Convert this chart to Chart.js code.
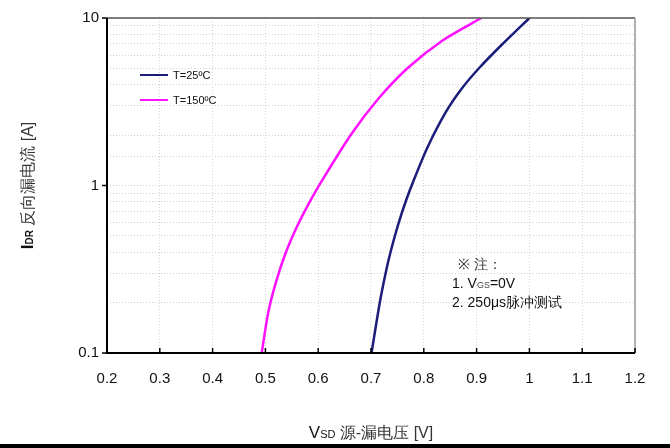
<!DOCTYPE html>
<html>
<head>
<meta charset="utf-8">
<script src="https://cdn.jsdelivr.net/npm/chart.js@4"></script>
<style>
  body { margin: 0; background: #fff; }
  #wrap { width: 670px; height: 448px; position: relative; }
  #bar { position: absolute; left: 0; top: 444px; width: 670px; height: 4px; background: #000; }
</style>
</head>
<body>
<div id="wrap">
  <canvas id="ivChart" width="670" height="448"></canvas>
  <div id="bar"></div>
</div>
<script>
// values
const vsd25 = [0.701, 0.7165, 0.729, 0.738, 0.7523, 0.7667, 0.7811, 0.8064, 0.8419, 0.8727, 0.9049, 0.9472, 1.000];
const idr25 = [0.1, 0.199, 0.313, 0.412, 0.597, 0.819, 1.078, 1.675, 2.75, 3.82, 5.03, 6.90, 10];
const vsd150 = [0.493, 0.5051, 0.5193, 0.5381, 0.5597, 0.5824, 0.604, 0.6616, 0.7119, 0.769, 0.8369, 0.9089];
const idr150 = [0.1, 0.1726, 0.2606, 0.3937, 0.5675, 0.7828, 1.031, 2.002, 3.239, 5.009, 7.39, 10];

const seriesNames = ["T=25ºC", "T=150ºC"];
const xTicks = [0.2, 0.3, 0.4, 0.5, 0.6, 0.7, 0.8, 0.9, 1, 1.1, 1.2];
const yTicks = [0.1, 1, 10];
const noteLines = ["※ 注：", "1. V|GS|=0V", "2. 250μs脉冲测试"];

const FONT = "'Liberation Sans', Arial, sans-serif";
const NAVY = "#1c1c7a";
const PINK = "#ff10ff";

function toPoints(xs, ys) {
  return xs.map((x, i) => ({ x: x, y: ys[i] }));
}

// draw text pieces, "small" pieces get a smaller font
function drawPieces(ctx, pieces, x, y, align) {
  let total = 0;
  pieces.forEach(p => {
    ctx.font = p.font;
    total += ctx.measureText(p.text).width;
  });
  let cx = align === "center" ? x - total / 2 : x;
  pieces.forEach(p => {
    ctx.font = p.font;
    ctx.fillStyle = p.color || "#111";
    ctx.fillText(p.text, cx, y + (p.dy || 0));
    cx += ctx.measureText(p.text).width;
  });
}

const decorPlugin = {
  id: "decor",
  afterDraw(chart) {
    const ctx = chart.ctx;
    const a = chart.chartArea;
    const xs = chart.scales.x, ys = chart.scales.y;
    ctx.save();
    ctx.textBaseline = "alphabetic";
    ctx.textAlign = "left";

    // frame
    ctx.strokeStyle = "#555";
    ctx.lineWidth = 1.5;
    ctx.beginPath();
    ctx.moveTo(a.left, a.top); ctx.lineTo(a.right, a.top);
    ctx.stroke();
    ctx.strokeStyle = "#999";
    ctx.beginPath();
    ctx.moveTo(a.right, a.top); ctx.lineTo(a.right, a.bottom);
    ctx.stroke();
    ctx.strokeStyle = "#000";
    ctx.lineWidth = 2;
    ctx.beginPath();
    ctx.moveTo(a.left, a.top); ctx.lineTo(a.left, a.bottom); ctx.lineTo(a.right, a.bottom);
    ctx.stroke();

    // tick marks
    ctx.lineWidth = 1.5;
    xTicks.forEach(v => {
      const px = xs.getPixelForValue(v);
      ctx.beginPath(); ctx.moveTo(px, a.bottom); ctx.lineTo(px, a.bottom - 5); ctx.stroke();
    });
    yTicks.forEach(v => {
      const py = ys.getPixelForValue(v);
      ctx.beginPath(); ctx.moveTo(a.left, py); ctx.lineTo(a.left - 5, py); ctx.stroke();
    });

    // legend inside plot
    const leg = [[NAVY, 75], [PINK, 100]];
    leg.forEach((l, i) => {
      ctx.strokeStyle = l[0];
      ctx.lineWidth = 2;
      ctx.beginPath(); ctx.moveTo(140, l[1]); ctx.lineTo(168, l[1]); ctx.stroke();
      ctx.font = "11px " + FONT;
      ctx.fillStyle = "#111";
      ctx.fillText(seriesNames[i], 173, l[1] + 4);
    });

    // note
    const big = "14px " + FONT, small = "9px " + FONT;
    drawPieces(ctx, [{ text: noteLines[0], font: big, color: "#333" }], 458, 269, "left");
    const parts = noteLines[1].split("|");
    drawPieces(ctx, [
      { text: parts[0], font: big },
      { text: parts[1], font: small, color: "#444" },
      { text: parts[2], font: big }
    ], 452, 288, "left");
    drawPieces(ctx, [{ text: noteLines[2], font: big }], 452, 307, "left");

    // x title
    drawPieces(ctx, [
      { text: "V", font: "17px " + FONT },
      { text: "SD", font: "11px " + FONT },
      { text: " 源-漏电压 [V]", font: "16px " + FONT, color: "#333" }
    ], (a.left + a.right) / 2, 438, "center");

    // y title (rotated)
    ctx.translate(33, (a.top + a.bottom) / 2);
    ctx.rotate(-Math.PI / 2);
    drawPieces(ctx, [
      { text: "I", font: "bold 17px " + FONT },
      { text: "DR", font: "bold 10px " + FONT },
      { text: " 反向漏电流 [A]", font: "16px " + FONT, color: "#333" }
    ], 0, 0, "center");
    ctx.restore();
  }
};

const ctx = document.getElementById("ivChart").getContext("2d");
new Chart(ctx, {
  type: "scatter",
  data: {
    datasets: [
      {
        label: seriesNames[0],
        data: toPoints(vsd25, idr25),
        showLine: true,
        borderColor: NAVY,
        borderWidth: 2.5,
        pointRadius: 0,
        tension: 0.25
      },
      {
        label: seriesNames[1],
        data: toPoints(vsd150, idr150),
        showLine: true,
        borderColor: PINK,
        borderWidth: 2.5,
        pointRadius: 0,
        tension: 0.25
      }
    ]
  },
  options: {
    responsive: false,
    animation: false,
    layout: { padding: { left: 0, right: 35, top: 18, bottom: 0 } },
    plugins: { legend: { display: false }, tooltip: { enabled: false } },
    scales: {
      x: {
        type: "linear",
        min: 0.2,
        max: 1.2,
        afterFit: s => { s.height = 95; },
        afterBuildTicks: s => { s.ticks = xTicks.map(v => ({ value: v })); },
        grid: {
          color: "#d4d4d4",
          lineWidth: 1,
          drawTicks: false
        },
        border: { display: false, dash: [1, 2] },
        ticks: {
          padding: 17,
          color: "#111",
          font: { family: FONT, size: 15 },
          callback: v => String(v)
        }
      },
      y: {
        type: "logarithmic",
        min: 0.1,
        max: 10,
        afterFit: s => { s.width = 107; },
        grid: {
          color: "#d2d2d2",
          lineWidth: 1,
          drawTicks: false
        },
        border: { display: false, dash: [1, 2] },
        ticks: {
          padding: 8,
          color: "#111",
          autoSkip: false,
          font: { family: FONT, size: 15 },
          callback: v => (yTicks.includes(v) ? String(v) : "")
        }
      }
    }
  },
  plugins: [decorPlugin]
});
</script>
</body>
</html>
